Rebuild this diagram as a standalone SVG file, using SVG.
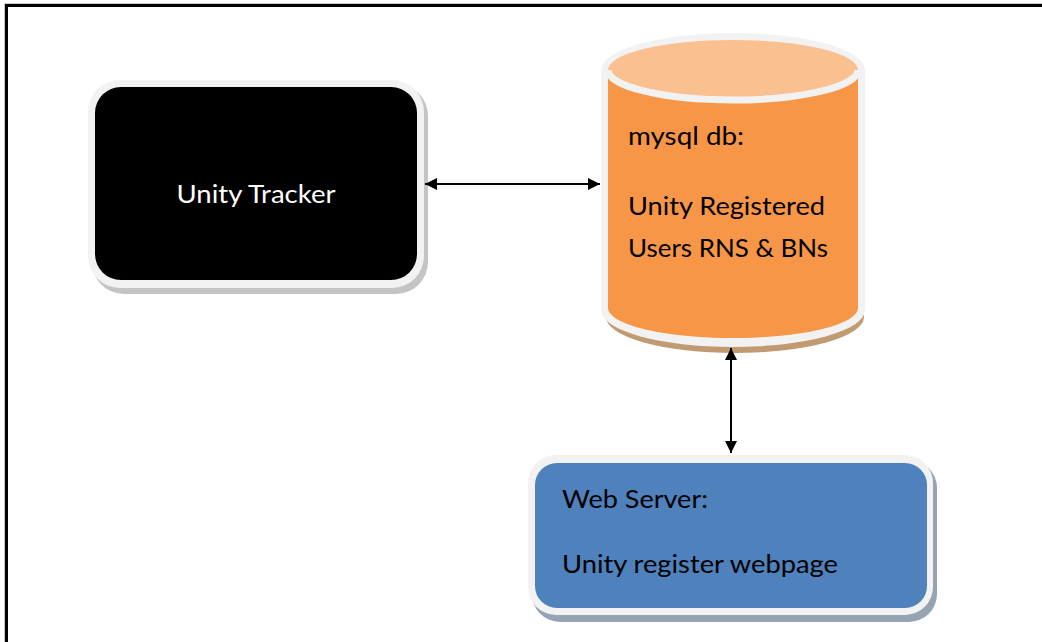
<svg xmlns="http://www.w3.org/2000/svg" width="1042" height="642" viewBox="0 0 1042 642">
<style>
.t{font-family:Lato,"Open Sans","Liberation Sans",sans-serif;font-size:25px}
.frame{fill:#f2f2f2}
.conn{stroke:#000;stroke-width:2;fill:none}
</style>
<defs>
<marker id="ah" viewBox="0 0 10 10" refX="10" refY="5" markerWidth="15" markerHeight="12" markerUnits="userSpaceOnUse" orient="auto-start-reverse">
<path d="M0,0 L10,5 L0,10 z" fill="#000"/>
</marker>
</defs>
<rect width="1042" height="642" fill="#fff"/>
<path d="M6.5,642 V5.5 H1042" fill="none" stroke="#000" stroke-width="3"/>
<path d="M4.5,642 V3.5 H1042" fill="none" stroke="#c8c8c8" stroke-width="1"/>

<g id="tracker">
<rect x="92" y="84" width="336" height="210" rx="32" fill="#c4c4c4"/>
<rect x="88" y="80" width="336" height="208" rx="32" class="frame"/>
<rect x="95" y="87" width="322" height="193" rx="26" fill="#000"/>
<text x="256" y="203" class="t" fill="#fff" text-anchor="middle" textLength="159" lengthAdjust="spacingAndGlyphs">Unity Tracker</text>
</g>

<g id="db">
<path d="M604,72 V312 A129,36 0 0 0 862,312 V72 Z" fill="#c29a72" transform="translate(2,5)"/>
<path d="M601,70 V310 A132,37 0 0 0 865,310 V70 A132,37 0 0 0 601,70 Z" class="frame"/>
<path d="M608,70 V308 A125,30 0 0 0 858,308 V70 Z" fill="#f79646"/>
<ellipse cx="733" cy="70" rx="125" ry="30" fill="#fac090"/>
<path d="M608,70 A125,30 0 0 0 858,70" fill="none" stroke="#f2f2f2" stroke-width="7"/>
<text x="628" y="145" class="t" fill="#000" textLength="116" lengthAdjust="spacingAndGlyphs">mysql db:</text>
<text x="628" y="215" class="t" fill="#000" textLength="197" lengthAdjust="spacingAndGlyphs">Unity Registered</text>
<text x="628" y="257" class="t" fill="#000" textLength="200" lengthAdjust="spacingAndGlyphs">Users RNS &amp; BNs</text>
</g>

<g id="webserver">
<rect x="532" y="460" width="405" height="162" rx="28" fill="#95a3b3"/>
<rect x="528" y="455" width="405" height="160" rx="28" class="frame"/>
<rect x="535" y="463" width="392" height="145" rx="22" fill="#4f81bd"/>
<text x="562" y="508" class="t" fill="#000" textLength="146" lengthAdjust="spacingAndGlyphs">Web Server:</text>
<text x="562" y="573" class="t" fill="#000" textLength="276" lengthAdjust="spacingAndGlyphs">Unity register webpage</text>
</g>

<g id="connectors">
<line x1="425" y1="184" x2="600" y2="184" class="conn" marker-start="url(#ah)" marker-end="url(#ah)"/>
<line x1="731" y1="348" x2="731" y2="453" class="conn" marker-start="url(#ah)" marker-end="url(#ah)"/>
</g>
</svg>
